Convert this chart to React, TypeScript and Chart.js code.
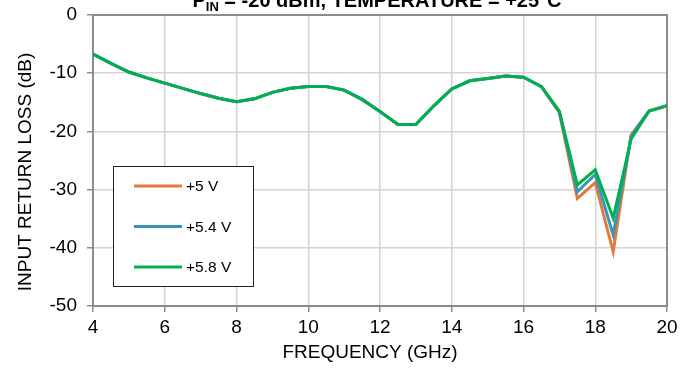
import React, { useEffect, useRef } from "react";
import { Chart, registerables } from "chart.js";

Chart.register(...registerables);

const frequencies = [4, 4.5, 5, 5.5, 6, 6.5, 7, 7.5, 8, 8.5, 9, 9.5, 10, 10.5, 11, 11.5, 12, 12.5, 13, 13.5, 14, 14.5, 15, 15.5, 16, 16.5, 17, 17.5, 18, 18.5, 19, 19.5, 20];

const v50 = [-6.7, -8.3, -9.8, -10.8, -11.7, -12.6, -13.5, -14.3, -14.9, -14.4, -13.3, -12.6, -12.3, -12.3, -12.9, -14.5, -16.6, -18.8, -18.8, -15.6, -12.7, -11.3, -10.9, -10.5, -10.7, -12.3, -16.8, -31.5, -28.8, -40.7, -20.6, -16.5, -15.6];
const v54 = [-6.7, -8.3, -9.8, -10.8, -11.7, -12.6, -13.5, -14.3, -14.9, -14.4, -13.3, -12.6, -12.3, -12.3, -12.9, -14.5, -16.6, -18.8, -18.8, -15.6, -12.7, -11.3, -10.9, -10.5, -10.7, -12.3, -16.7, -30.4, -27.4, -37.8, -20.9, -16.5, -15.6];
const v58 = [-6.7, -8.3, -9.8, -10.8, -11.7, -12.6, -13.5, -14.3, -14.9, -14.4, -13.3, -12.6, -12.3, -12.3, -12.9, -14.5, -16.6, -18.8, -18.8, -15.6, -12.7, -11.3, -10.9, -10.5, -10.7, -12.3, -16.5, -29.2, -26.6, -34.9, -21.3, -16.5, -15.6];

const seriesLabels = ["+5 V", "+5.4 V", "+5.8 V"];
const seriesColors = ["#E07B39", "#3A94B8", "#00B050"];

const titleMain = "P";
const titleSub = "IN";
const titleRest = " = -20 dBm, TEMPERATURE = +25°C";
const xTitle = "FREQUENCY (GHz)";
const yTitle = "INPUT RETURN LOSS (dB)";

const FONT = "Arial, 'Liberation Sans', sans-serif";

const overlayPlugin = {
  id: "overlay",
  beforeDatasetsDraw(chart: any) {
    const { ctx, chartArea } = chart;
    ctx.save();
    ctx.strokeStyle = "#8c8c8c";
    ctx.lineWidth = 2;
    ctx.strokeRect(chartArea.left, chartArea.top, chartArea.right - chartArea.left, chartArea.bottom - chartArea.top);
    ctx.restore();
  },
  afterDraw(chart: any) {
    const { ctx } = chart;
    ctx.save();
    // chart title (cut off at the top edge)
    ctx.fillStyle = "#000";
    ctx.textBaseline = "alphabetic";
    ctx.textAlign = "left";
    ctx.font = `bold 20px ${FONT}`;
    const wMain = ctx.measureText(titleMain).width;
    const wRest = ctx.measureText(titleRest).width;
    ctx.font = `bold 13px ${FONT}`;
    const wSub = ctx.measureText(titleSub).width;
    const total = wMain + wSub + wRest;
    let x = 377 - total / 2;
    const base = 7;
    ctx.font = `bold 20px ${FONT}`;
    ctx.fillText(titleMain, x, base);
    x += wMain;
    ctx.font = `bold 13px ${FONT}`;
    ctx.fillText(titleSub, x, base + 4);
    x += wSub;
    ctx.font = `bold 20px ${FONT}`;
    ctx.fillText(titleRest, x, base);

    // axis titles
    ctx.font = `19px ${FONT}`;
    ctx.textAlign = "center";
    ctx.textBaseline = "middle";
    ctx.fillText(xTitle, 370, 353);
    ctx.save();
    ctx.translate(26, 172);
    ctx.rotate(-Math.PI / 2);
    ctx.fillText(yTitle, 0, 0);
    ctx.restore();

    // legend box
    const bx = 113, by = 166, bw = 140, bh = 120;
    ctx.fillStyle = "#fff";
    ctx.fillRect(bx, by, bw, bh);
    ctx.strokeStyle = "#222";
    ctx.lineWidth = 1;
    ctx.strokeRect(bx + 0.5, by + 0.5, bw, bh);
    ctx.font = `15.5px ${FONT}`;
    ctx.textAlign = "left";
    ctx.textBaseline = "middle";
    chart.data.datasets.forEach((ds: any) => {
      const idx = seriesLabels.indexOf(ds.label);
      const ly = by + 20 + idx * 40.5;
      ctx.strokeStyle = ds.borderColor;
      ctx.lineWidth = 3;
      ctx.beginPath();
      ctx.moveTo(bx + 21, ly);
      ctx.lineTo(bx + 69, ly);
      ctx.stroke();
      ctx.fillStyle = "#000";
      ctx.fillText(ds.label, bx + 73, ly + 1);
    });
    ctx.restore();
  },
};

export default function App() {
  const ref = useRef<HTMLCanvasElement>(null);
  useEffect(() => {
    if (!ref.current) return;
    const all = [v50, v54, v58];
    const mk = (i: number, order: number) => ({
      label: seriesLabels[i],
      data: frequencies.map((f, k) => ({ x: f, y: all[i][k] })),
      borderColor: seriesColors[i],
      backgroundColor: seriesColors[i],
      borderWidth: 3,
      pointRadius: 0,
      tension: 0,
      order,
    });
    const chart = new Chart(ref.current, {
      type: "line",
      data: { datasets: [mk(0, 3), mk(1, 2), mk(2, 1)] },
      options: {
        animation: false,
        responsive: false,
        maintainAspectRatio: false,
        layout: { padding: { top: 15, right: 22, left: 0, bottom: 0 } },
        plugins: { legend: { display: false }, tooltip: { enabled: false } },
        scales: {
          x: {
            type: "linear",
            min: 4,
            max: 20,
            ticks: { stepSize: 2, color: "#000", font: { size: 19, family: FONT }, padding: 4, maxRotation: 0 },
            grid: { color: "#d4d4d4", tickLength: 6, tickColor: "#8c8c8c", lineWidth: 1.5 },
            border: { display: false },
            afterFit: (s: any) => { s.height = 63; s.paddingLeft = 0; s.paddingRight = 0; },
          },
          y: {
            min: -50,
            max: 0,
            ticks: { stepSize: 10, color: "#000", font: { size: 19, family: FONT }, padding: 10 },
            grid: { color: "#d4d4d4", tickLength: 6, tickColor: "#8c8c8c", lineWidth: 1.5 },
            border: { display: false },
            afterFit: (s: any) => { s.width = 93; s.paddingTop = 0; s.paddingBottom = 0; },
          },
        },
      },
      plugins: [overlayPlugin],
    });
    return () => chart.destroy();
  }, []);
  return (
    <div style={{ position: "absolute", left: 0, top: 0, width: 689, height: 369, background: "#fff" }}>
      <canvas ref={ref} width={689} height={369} style={{ display: "block" }} />
    </div>
  );
}
